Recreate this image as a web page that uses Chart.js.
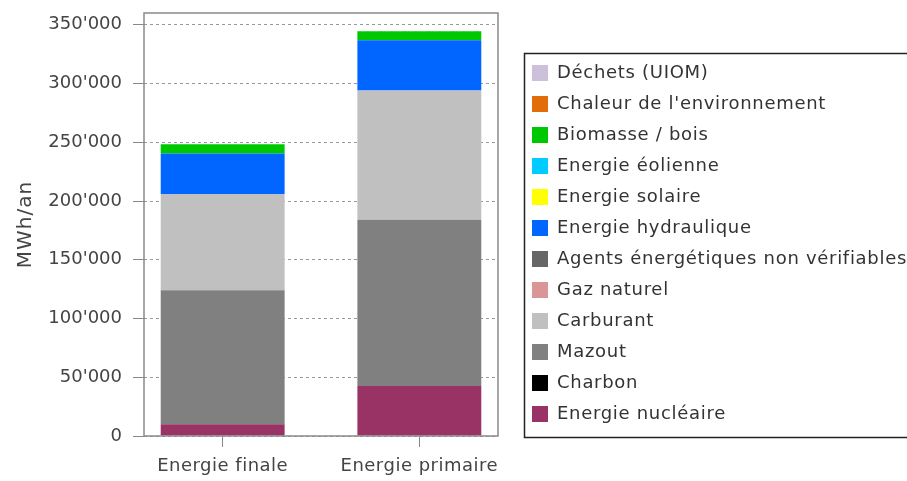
<!DOCTYPE html>
<html>
<head>
<meta charset="utf-8">
<script src="https://cdn.jsdelivr.net/npm/chart.js@4.4.1/dist/chart.umd.min.js"></script>
<style>
  html, body { margin: 0; padding: 0; background: #ffffff; }
  #wrap { width: 907px; height: 481px; }
</style>
</head>
<body>
<div id="wrap"><canvas id="c" width="907" height="481"></canvas></div>
<script>
// ---- Data ----
const categories = ['Energie finale', 'Energie primaire'];
const yTickValues = [0, 50000, 100000, 150000, 200000, 250000, 300000, 350000];

// series, listed from the bottom of the stack to the top
const nucleaire   = [10000, 42500];
const charbon     = [0, 0];
const mazout      = [114000, 141500];
const carburant   = [82000, 110000];
const gazNaturel  = [0, 0];
const agents      = [0, 0];
const hydraulique = [34500, 42800];
const solaire     = [0, 0];
const eolienne    = [0, 0];
const biomasse    = [7700, 7700];
const chaleur     = [0, 0];
const dechets     = [0, 0];

const seriesNames = [
  'Energie nucléaire', 'Charbon', 'Mazout', 'Carburant', 'Gaz naturel',
  'Agents énergétiques non vérifiables', 'Energie hydraulique', 'Energie solaire',
  'Energie éolienne', 'Biomasse / bois', "Chaleur de l'environnement", 'Déchets (UIOM)'
];
const seriesValues = [nucleaire, charbon, mazout, carburant, gazNaturel, agents,
  hydraulique, solaire, eolienne, biomasse, chaleur, dechets];
const seriesColors = ['#993366', '#000000', '#808080', '#C0C0C0', '#DA9694', '#666666',
  '#0066FF', '#FFFF00', '#00CCFF', '#00C800', '#E36C0A', '#CCC0DA'];

const datasets = seriesNames.map((name, i) => ({
  label: name,
  data: seriesValues[i].map((v, j) => ({ x: j, y: v })),
  backgroundColor: seriesColors[i],
  borderWidth: 0,
  categoryPercentage: 1.0,
  barPercentage: 0.63
}));

function fmt(v) {
  return String(v).replace(/\B(?=(\d{3})+(?!\d))/g, "'");
}

const LEGEND_WIDTH = 388;

function withSpacing(obj, method, spacing) {
  const key = '_ls_' + method;
  if (obj[key]) return;
  const orig = obj[method];
  obj[method] = function (...args) {
    const c = this.ctx;
    c.save();
    c.letterSpacing = spacing;
    const r = orig.apply(this, args);
    c.restore();
    return r;
  };
  obj[key] = true;
}

const framePlugin = {
  id: 'frame',
  afterInit(chart) {
    const lg = chart.legend;
    if (lg && !lg._patched) {
      const orig = lg.fit;
      lg.fit = function () { orig.call(this); this.width = LEGEND_WIDTH; };
      lg._patched = true;
      withSpacing(lg, 'draw', '0.7px');
    }
  },
  afterUpdate(chart) {
    if (chart.scales.x) withSpacing(chart.scales.x, 'drawLabels', '0.5px');
    if (chart.scales.y) withSpacing(chart.scales.y, 'drawTitle', '1px');
  },
  afterDatasetsDraw(chart) {
    const { ctx, chartArea: a } = chart;
    ctx.save();
    ctx.strokeStyle = '#8a8a8a';
    ctx.lineWidth = 1.5;
    ctx.strokeRect(Math.round(a.left), Math.round(a.top), Math.round(a.right - a.left), Math.round(a.bottom - a.top));
    ctx.restore();
  },
  afterDraw(chart) {
    const lg = chart.legend;
    if (!lg || !lg.columnSizes) return;
    const ctx = chart.ctx;
    const top = lg.bottom - lg.columnSizes[0].height - 11;
    ctx.save();
    ctx.strokeStyle = '#222';
    ctx.lineWidth = 1.5;
    ctx.strokeRect(lg.left + 5.5, top + 0.5, 600, lg.bottom + 1 - top);
    ctx.restore();
  }
};

Chart.defaults.font.family = "'DejaVu Sans', sans-serif";
Chart.defaults.font.size = 18;
Chart.defaults.color = '#444';

new Chart(document.getElementById('c'), {
  type: 'bar',
  data: { datasets },
  plugins: [framePlugin],
  options: {
    responsive: false,
    animation: false,
    devicePixelRatio: 1,
    layout: { padding: { top: 13, left: 0, right: 0, bottom: 0 } },
    plugins: {
      tooltip: { enabled: false },
      legend: {
        position: 'right',
        align: 'end',
        fullSize: false,
        reverse: true,
        maxWidth: LEGEND_WIDTH,
        labels: {
          boxWidth: 16,
          boxHeight: 16,
          padding: 13,
          color: '#333',
          font: { size: 18 }
        }
      }
    },
    scales: {
      x: {
        type: 'linear',
        stacked: true,
        offset: false,
        min: -0.4,
        max: 1.4,
        afterBuildTicks(s) { s.ticks = categories.map((c, i) => ({ value: i })); },
        afterFit(s) { s.height = 45; s.paddingLeft = 0; s.paddingRight = 0; },
        ticks: {
          padding: 9,
          color: '#444',
          maxRotation: 0,
          callback: (v, i) => categories[i]
        },
        grid: {
          offset: false,
          drawOnChartArea: false,
          drawTicks: true,
          tickLength: 11,
          tickColor: '#888',
          tickBorderDash: [1, 0],
          color: '#888'
        },
        border: { display: false }
      },
      y: {
        stacked: true,
        min: 0,
        max: 360000,
        afterBuildTicks(s) { s.ticks = yTickValues.map(v => ({ value: v })); },
        afterFit(s) { s.width = 144; s.paddingTop = 0; s.paddingBottom = 0; },
        ticks: {
          padding: 11,
          color: '#444',
          callback: (v) => fmt(v)
        },
        grid: {
          color: '#999',
          tickColor: '#888',
          tickLength: 11,
          tickBorderDash: [1, 0]
        },
        border: { display: false, dash: [3, 3] },
        title: {
          display: true,
          text: 'MWh/an',
          color: '#444',
          font: { size: 20 },
          padding: { top: 14, bottom: 0 }
        }
      },
      y2: {
        position: 'right',
        display: true,
        min: 0,
        max: 1,
        afterFit(s) { s.width = 21; s.paddingTop = 0; s.paddingBottom = 0; },
        ticks: { display: false },
        grid: { display: false },
        border: { display: false }
      }
    }
  }
});
</script>
</body>
</html>
